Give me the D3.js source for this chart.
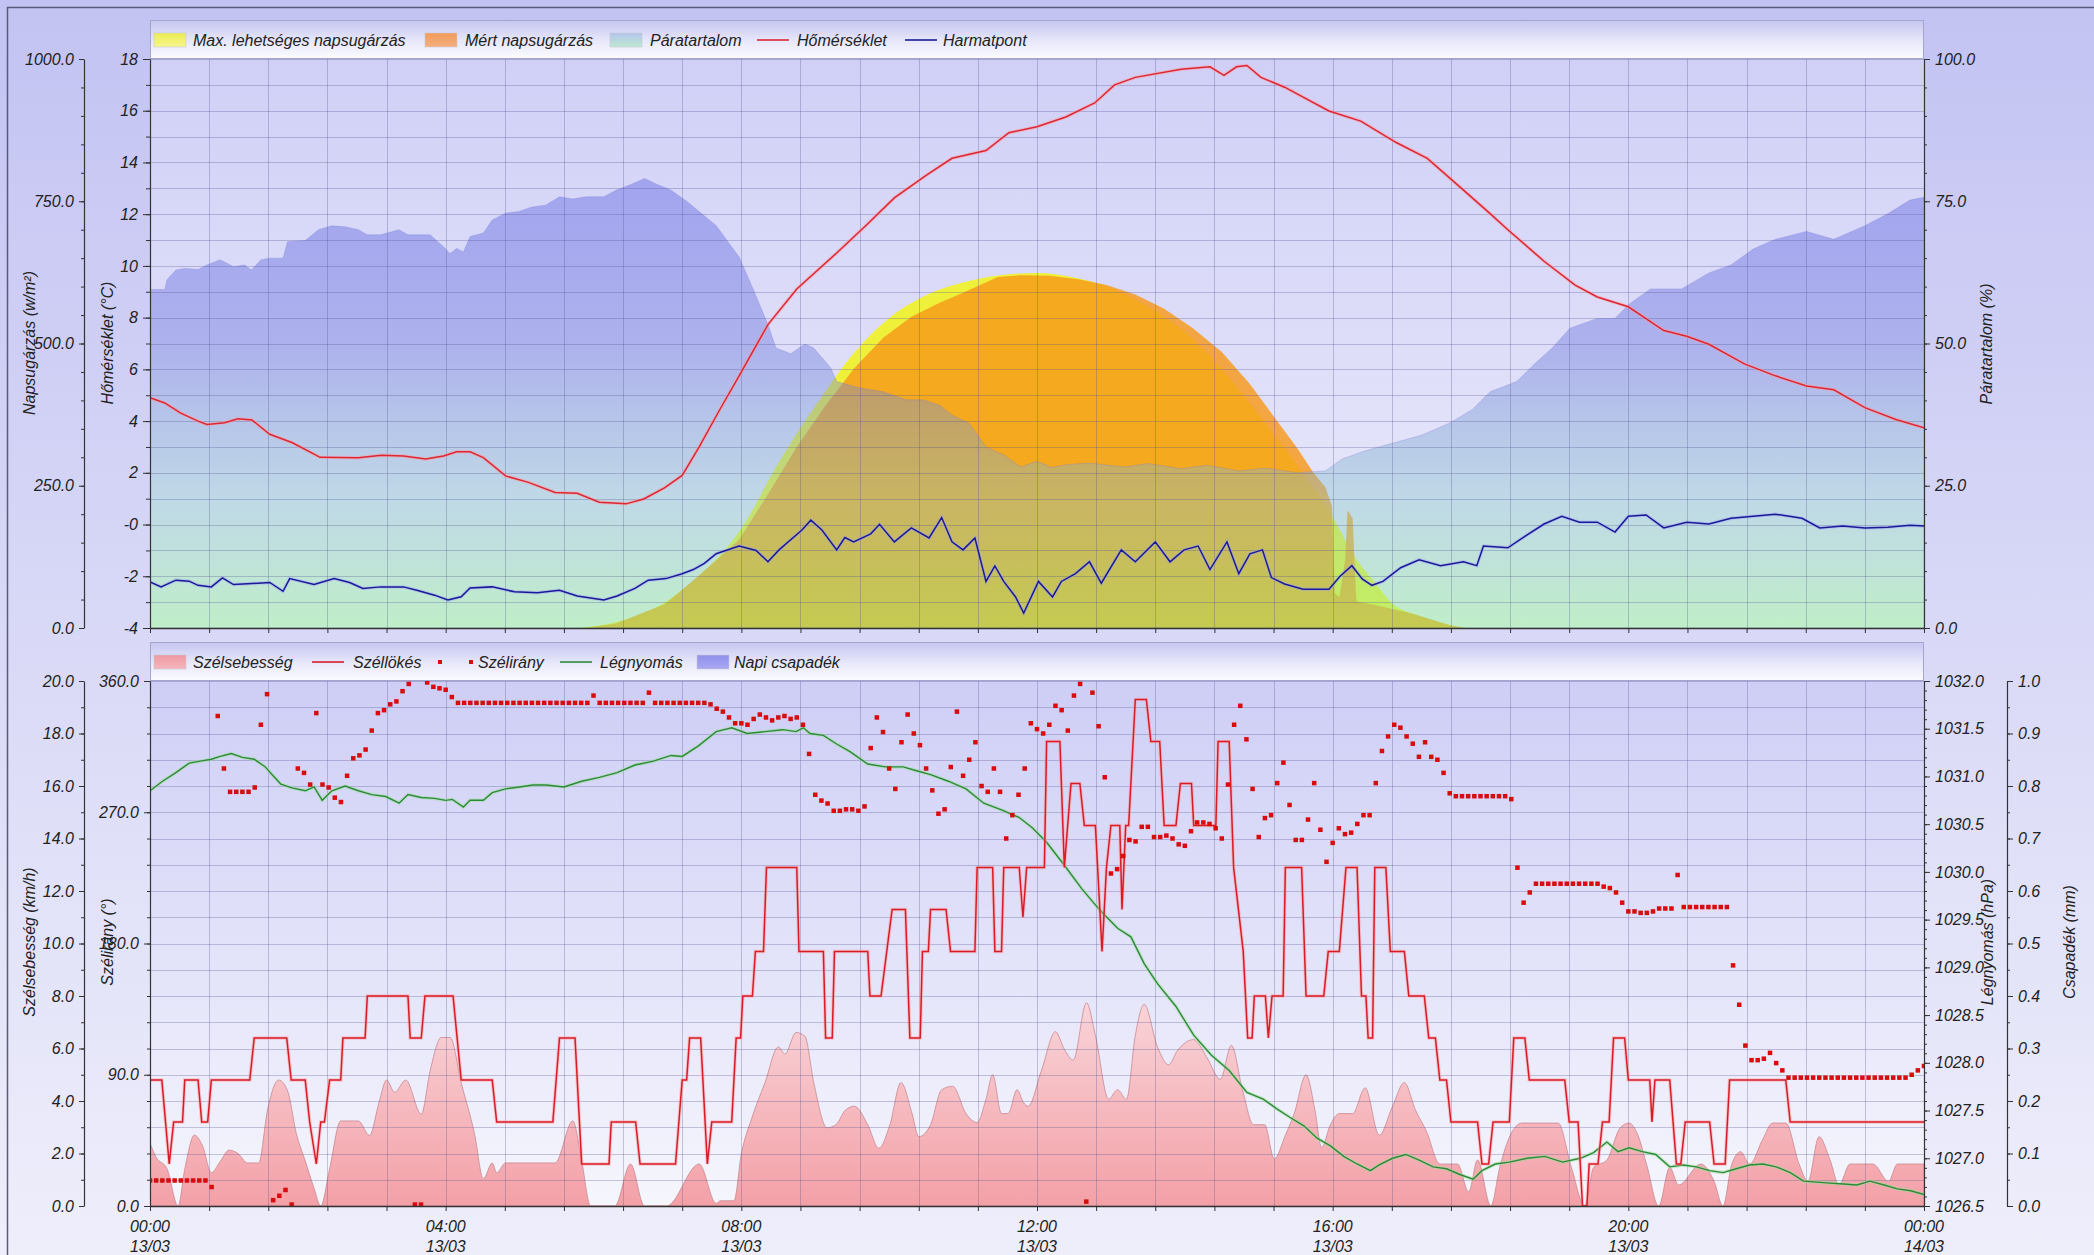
<!DOCTYPE html>
<html><head><meta charset="utf-8">
<script src="https://cdn.jsdelivr.net/npm/d3@7"></script>
<style>
html,body{margin:0;padding:0;background:#fff;}
svg text{font-family:"Liberation Sans",Arial,Helvetica,sans-serif;font-style:italic;font-size:16px;fill:#222;}
</style></head>
<body><svg id="chart" width="2094" height="1255"></svg>
<script>
// ---------------- DATA (hours since 13/03 00:00) ----------------
const xTickHours = [0,4,8,12,16,20,24];
const xTickLabels = [["00:00","13/03"],["04:00","13/03"],["08:00","13/03"],["12:00","13/03"],["16:00","13/03"],["20:00","13/03"],["00:00","14/03"]];

const temperature = [[0,4.9],[0.2,4.7],[0.41,4.32],[0.65,4.0],[0.77,3.87],[1.01,3.94],[1.19,4.09],[1.38,4.04],[1.62,3.49],[1.92,3.17],[2.22,2.72],[2.3,2.6],[2.82,2.58],[3.13,2.68],[3.43,2.65],[3.73,2.53],[3.97,2.65],[4.15,2.81],[4.33,2.81],[4.51,2.59],[4.81,1.88],[5.12,1.63],[5.48,1.24],[5.78,1.21],[6.08,0.86],[6.44,0.8],[6.68,0.99],[6.96,1.42],[7.2,1.9],[7.43,3.0],[7.7,4.4],[7.97,5.75],[8.36,7.73],[8.75,9.11],[9.29,10.5],[9.7,11.6],[10.07,12.63],[10.5,13.5],[10.85,14.16],[11.31,14.46],[11.62,15.15],[12.0,15.38],[12.39,15.76],[12.78,16.3],[13.05,17.0],[13.33,17.29],[13.95,17.6],[14.34,17.7],[14.53,17.37],[14.7,17.7],[14.84,17.75],[15.03,17.29],[15.35,16.91],[15.5,16.68],[15.95,15.99],[16.38,15.6],[16.86,14.77],[17.28,14.16],[17.77,12.93],[18.13,12.02],[18.37,11.4],[18.86,10.18],[19.28,9.26],[19.58,8.8],[20.0,8.42],[20.48,7.5],[20.79,7.28],[21.09,6.97],[21.57,6.21],[21.99,5.75],[22.41,5.36],[22.78,5.21],[23.2,4.52],[23.62,4.06],[24,3.74]];

const dewPoint = [[0,-2.22],[0.15,-2.41],[0.35,-2.15],[0.53,-2.19],[0.65,-2.35],[0.83,-2.41],[0.98,-2.06],[1.13,-2.32],[1.38,-2.28],[1.62,-2.24],[1.8,-2.58],[1.89,-2.09],[2.22,-2.32],[2.49,-2.09],[2.7,-2.24],[2.88,-2.47],[3.12,-2.41],[3.43,-2.41],[3.61,-2.54],[3.85,-2.73],[4.03,-2.92],[4.21,-2.79],[4.33,-2.45],[4.63,-2.41],[4.93,-2.6],[5.24,-2.64],[5.54,-2.54],[5.78,-2.76],[6.14,-2.92],[6.32,-2.76],[6.56,-2.47],[6.74,-2.15],[6.98,-2.09],[7.2,-1.9],[7.35,-1.74],[7.5,-1.5],[7.66,-1.13],[7.97,-0.83],[8.2,-1.0],[8.36,-1.44],[8.51,-0.98],[8.82,-0.21],[8.94,0.17],[9.09,-0.21],[9.29,-0.98],[9.4,-0.5],[9.52,-0.67],[9.75,-0.36],[9.87,0.01],[10.07,-0.67],[10.3,-0.13],[10.54,-0.52],[10.71,0.27],[10.85,-0.67],[11.0,-0.98],[11.16,-0.52],[11.31,-2.2],[11.43,-1.6],[11.55,-2.2],[11.71,-2.8],[11.82,-3.42],[12.02,-2.2],[12.21,-2.8],[12.33,-2.2],[12.52,-1.9],[12.71,-1.44],[12.87,-2.27],[13.14,-0.98],[13.33,-1.44],[13.6,-0.67],[13.8,-1.44],[13.99,-0.98],[14.18,-0.83],[14.34,-1.74],[14.57,-0.67],[14.73,-1.9],[14.88,-1.13],[15.05,-0.98],[15.17,-2.05],[15.35,-2.3],[15.6,-2.5],[15.95,-2.5],[16.1,-2.0],[16.26,-1.59],[16.4,-2.1],[16.53,-2.35],[16.68,-2.2],[16.92,-1.67],[17.17,-1.36],[17.46,-1.59],[17.77,-1.44],[17.95,-1.59],[18.04,-0.83],[18.37,-0.9],[18.61,-0.44],[18.86,0.02],[19.1,0.32],[19.34,0.09],[19.58,0.09],[19.82,-0.29],[20.0,0.32],[20.24,0.37],[20.48,-0.13],[20.79,0.09],[21.09,0.02],[21.39,0.24],[21.69,0.32],[21.99,0.4],[22.35,0.24],[22.59,-0.13],[22.9,-0.06],[23.2,-0.13],[23.51,-0.1],[23.81,-0.03],[24,-0.06]];

const humidity = [[0,59.5],[0.2,59.5],[0.23,61.2],[0.35,62.9],[0.47,63.2],[0.65,63.0],[0.77,63.8],[0.95,64.7],[1.13,63.5],[1.28,63.8],[1.37,62.9],[1.5,64.7],[1.62,65.0],[1.8,65.0],[1.86,67.9],[2.1,68.1],[2.28,70.0],[2.46,70.7],[2.64,70.5],[2.82,70.0],[2.94,69.1],[3.12,69.1],[3.37,70.0],[3.49,69.1],[3.79,69.1],[3.97,67.0],[4.06,65.8],[4.15,66.7],[4.24,66.1],[4.33,68.8],[4.51,69.4],[4.63,71.7],[4.81,72.9],[4.99,73.2],[5.17,74.0],[5.35,74.3],[5.54,75.8],[5.72,75.4],[5.9,75.8],[6.14,75.8],[6.32,77.0],[6.5,77.9],[6.69,79.0],[6.87,77.9],[7.04,77.0],[7.27,74.9],[7.66,70.7],[7.97,65.2],[8.16,59.6],[8.36,53.3],[8.47,49.2],[8.67,48.2],[8.86,49.9],[8.98,49.2],[9.21,45.7],[9.29,43.3],[9.6,42.2],[9.92,41.5],[10.23,40.1],[10.46,40.1],[10.69,39.1],[10.85,37.4],[11.08,36.0],[11.31,31.8],[11.55,30.4],[11.78,28.3],[12.0,29.3],[12.2,28.2],[12.4,28.7],[12.7,29.0],[13.18,28.3],[13.5,28.9],[13.95,28.0],[14.3,28.6],[14.73,27.6],[15.1,28.1],[15.51,27.3],[15.9,27.6],[16.13,29.7],[16.43,31.1],[16.82,32.5],[17.21,33.9],[17.58,36.0],[17.89,38.4],[18.13,41.5],[18.49,43.3],[18.73,46.4],[18.97,49.2],[19.21,52.7],[19.58,54.4],[19.82,54.4],[20.0,56.8],[20.3,59.6],[20.72,59.6],[21.09,62.4],[21.39,63.8],[21.69,66.6],[21.99,68.3],[22.41,69.7],[22.78,68.3],[23.2,70.7],[23.51,72.8],[23.81,75.2],[24,75.7]];

const maxRadiation = [[5.8,0],[6.3,10],[7.0,48],[7.5,100],[8.0,175],[8.5,290],[9.0,390],[9.5,480],[10.0,545],[10.5,585],[11.0,607],[11.5,620],[12.0,624],[12.5,616],[13.0,598],[13.5,565],[14.0,520],[14.5,455],[15.0,375],[15.5,290],[16.0,195],[16.3,125],[16.56,82],[16.8,44],[17.16,22],[17.77,0]];

const measuredRadiation = [[5.9,0],[6.3,8],[6.97,42],[7.3,78],[7.6,112],[7.97,155],[8.36,235],[8.75,318],[9.14,391],[9.53,457],[9.92,510],[10.3,547],[10.69,572],[11.0,589],[11.23,603],[11.47,617],[11.78,620],[12.17,619],[12.56,613],[12.94,603],[13.33,586],[13.72,561],[14.11,527],[14.5,485],[14.88,429],[15.19,374],[15.51,318],[15.74,273],[15.9,248],[15.99,214],[16.03,61],[16.09,54],[16.17,120],[16.2,207],[16.27,193],[16.32,47],[16.59,40],[17.06,26],[17.59,5],[17.8,0]];

const windSpeed = [[0,2.4],[0.08,1.87],[0.23,1.42],[0.38,0],[0.47,1.4],[0.6,2.7],[0.71,2.3],[0.83,1.27],[0.95,1.7],[1.07,2.13],[1.19,2.0],[1.32,1.64],[1.47,1.64],[1.59,3.66],[1.74,4.8],[1.86,4.4],[1.98,2.76],[2.1,1.72],[2.22,0.67],[2.31,0],[2.43,1.42],[2.58,3.24],[2.82,3.24],[2.97,2.69],[3.1,3.96],[3.2,4.8],[3.31,4.33],[3.46,4.8],[3.67,3.5],[3.79,5.15],[3.94,6.42],[4.06,6.42],[4.21,4.7],[4.39,2.76],[4.51,1.04],[4.63,1.64],[4.69,1.27],[4.81,1.64],[5.48,1.64],[5.72,3.24],[5.84,1.72],[5.96,0],[6.29,0],[6.5,1.6],[6.69,0],[6.99,0],[7.43,1.6],[7.66,0.1],[7.72,0.2],[7.9,0.2],[8.0,1.98],[8.14,3.34],[8.32,4.7],[8.5,6.06],[8.59,5.79],[8.74,6.61],[8.86,6.47],[8.98,4.7],[9.16,2.98],[9.28,3.1],[9.41,3.66],[9.53,3.8],[9.71,3.1],[9.86,2.2],[10.01,3.1],[10.16,4.7],[10.31,3.52],[10.4,2.64],[10.56,3.1],[10.71,4.43],[10.86,4.56],[11.04,3.52],[11.19,3.18],[11.31,4.07],[11.4,5.0],[11.52,3.52],[11.61,3.52],[11.73,4.43],[11.82,3.93],[11.88,3.8],[12.06,5.16],[12.25,6.64],[12.37,5.97],[12.49,5.56],[12.67,7.74],[12.79,6.5],[12.97,4.07],[13.09,4.43],[13.21,4.07],[13.33,6.5],[13.45,7.68],[13.63,6.06],[13.78,5.38],[13.9,5.92],[14.12,6.34],[14.3,5.65],[14.48,4.83],[14.63,6.12],[14.78,4.43],[14.93,3.1],[15.08,3.1],[15.21,1.8],[15.36,2.7],[15.48,3.52],[15.64,5.0],[15.76,3.66],[15.85,2.23],[15.97,3.1],[16.09,3.52],[16.27,3.52],[16.44,4.5],[16.63,2.7],[16.81,3.8],[16.97,4.7],[17.12,3.66],[17.27,2.84],[17.45,1.6],[17.69,1.6],[17.84,0.54],[17.96,1.75],[18.14,0],[18.26,1.47],[18.38,2.55],[18.56,3.16],[19.05,3.16],[19.23,1.47],[19.41,0],[19.53,1.47],[19.71,1.75],[19.89,2.98],[20.01,3.16],[20.13,2.7],[20.25,1.55],[20.41,0],[20.56,1.47],[20.68,0.8],[20.98,1.6],[21.16,0.94],[21.28,0],[21.4,1.6],[21.52,2.07],[21.64,1.6],[21.82,2.55],[21.95,3.16],[22.13,3.16],[22.31,1.6],[22.43,0.94],[22.58,2.64],[22.73,1.75],[22.85,0.8],[23.0,1.6],[23.31,1.6],[23.52,0.94],[23.64,1.6],[24,1.6]];

const windGust = [[0,4.8],[0.16,4.8],[0.26,1.6],[0.32,3.2],[0.44,3.2],[0.47,4.8],[0.65,4.8],[0.7,3.2],[0.78,3.2],[0.83,4.8],[1.35,4.8],[1.41,6.4],[1.85,6.4],[1.91,4.8],[2.1,4.8],[2.16,3.2],[2.25,1.6],[2.31,3.2],[2.36,3.2],[2.43,4.8],[2.58,4.8],[2.61,6.4],[2.91,6.4],[2.94,8.0],[3.49,8.0],[3.52,6.4],[3.67,6.4],[3.72,8.0],[4.1,8.0],[4.21,4.8],[4.63,4.8],[4.69,3.2],[5.45,3.2],[5.54,6.4],[5.75,6.4],[5.84,1.6],[6.21,1.6],[6.24,3.2],[6.57,3.2],[6.63,1.6],[7.11,1.6],[7.2,4.8],[7.26,4.8],[7.3,6.4],[7.45,6.4],[7.54,1.6],[7.6,3.2],[7.87,3.2],[7.93,6.4],[7.99,6.4],[8.02,8.0],[8.15,8.0],[8.19,9.7],[8.3,9.7],[8.34,12.9],[8.75,12.9],[8.78,9.7],[9.11,9.7],[9.14,6.4],[9.23,6.4],[9.26,9.7],[9.71,9.7],[9.74,8.0],[9.89,8.0],[10.04,11.3],[10.22,11.3],[10.28,6.4],[10.42,6.4],[10.45,9.7],[10.53,9.7],[10.56,11.3],[10.77,11.3],[10.83,9.7],[11.16,9.7],[11.19,12.9],[11.4,12.9],[11.43,9.7],[11.52,9.7],[11.55,12.9],[11.76,12.9],[11.81,11.0],[11.86,12.9],[12.1,12.9],[12.13,17.7],[12.31,17.7],[12.37,12.9],[12.46,16.1],[12.58,16.1],[12.64,14.5],[12.79,14.5],[12.88,9.7],[12.94,12.9],[13.0,14.5],[13.12,14.5],[13.15,11.3],[13.2,14.5],[13.24,14.5],[13.33,19.3],[13.48,19.3],[13.54,17.7],[13.66,17.7],[13.72,14.5],[13.88,14.5],[13.94,16.1],[14.09,16.1],[14.12,14.5],[14.42,14.5],[14.45,17.7],[14.6,17.7],[14.66,12.9],[14.79,9.7],[14.85,6.4],[14.91,6.4],[14.94,8.0],[15.09,8.0],[15.13,6.4],[15.18,8.0],[15.33,8.0],[15.36,12.9],[15.58,12.9],[15.64,8.0],[15.88,8.0],[15.94,9.7],[16.09,9.7],[16.18,12.9],[16.33,12.9],[16.39,8.0],[16.45,8.0],[16.48,6.4],[16.54,6.4],[16.57,12.9],[16.72,12.9],[16.78,9.7],[16.97,9.7],[17.03,8.0],[17.24,8.0],[17.3,6.4],[17.39,6.4],[17.45,4.8],[17.54,4.8],[17.6,3.2],[17.96,3.2],[18.02,1.6],[18.11,1.6],[18.17,3.2],[18.39,3.2],[18.45,6.4],[18.6,6.4],[18.66,4.8],[19.14,4.8],[19.2,3.2],[19.32,3.2],[19.38,0.0],[19.44,0.0],[19.47,1.6],[19.59,1.6],[19.65,3.2],[19.74,3.2],[19.8,6.4],[19.95,6.4],[20.0,4.8],[20.29,4.8],[20.32,3.2],[20.36,4.8],[20.56,4.8],[20.65,1.6],[20.71,1.6],[20.77,3.2],[21.1,3.2],[21.16,1.6],[21.31,1.6],[21.37,4.8],[22.13,4.8],[22.19,3.2],[24.0,3.2]];

// wind direction, one reading every 5 minutes (00:00 .. 24:00)
const windDirection = [
17.5,17.5,17.5,17.5,17.5,17.5,17.5,17.5,17.5,17.5,13,336,
300,284,284,284,284,287,330,351,4,7,11,1,
300,297,289,338,289,287,280,277,295,307,309,313,
326,338,340,344,346,353,358,1,1,359,356,355,
354,349,345,345,345,345,345,345,345,345,345,345,
345,345,345,345,345,345,345,345,345,345,345,345,
350,345,345,345,345,345,345,345,345,352,345,345,
345,345,345,345,345,345,345,344,341,339,335,331,
331,330,334,337,335,333,335,336,334,335,330,310,
282,278,276,271,271,272,272,271,274,314,335,325,
300,286,318,337,324,316,300,285,269,272,301,339,
295,306,318,288,284,300,284,252,268,282,300,331,
327,324,330,343,340,326,350,358,3,352,329,294,
228,231,240,251,250,260,260,253,253,254,252,248,
247,257,263,263,262,259,252,289,330,343,320,286,
253,266,268,290,304,275,251,251,265,290,258,236,
249,259,255,256,262,268,268,290,312,322,330,328,
322,317,308,318,308,306,297,283,281,281,281,281,
281,281,281,281,281,279,232,208,215,221,221,221,
221,221,221,221,221,221,221,221,219,218,215,208,
202,202,201,201,202,204,204,204,227,205,205,205,
205,205,205,205,205,165,138,110,100,100,101,105,
98,93,88,88,88,88,88,88,88,88,88,88,
88,88,88,88,88,88,88,88,88,88,90,93,
96];

const pressure = [[0,1030.85],[0.17,1030.95],[0.35,1031.04],[0.53,1031.14],[0.68,1031.16],[0.83,1031.18],[0.95,1031.21],[1.1,1031.24],[1.25,1031.2],[1.41,1031.18],[1.56,1031.1],[1.65,1031.02],[1.77,1030.92],[1.92,1030.88],[2.1,1030.85],[2.22,1030.89],[2.33,1030.75],[2.46,1030.85],[2.64,1030.9],[2.82,1030.85],[3.0,1030.81],[3.19,1030.79],[3.37,1030.72],[3.49,1030.81],[3.67,1030.78],[3.85,1030.77],[4.0,1030.75],[4.09,1030.76],[4.24,1030.68],[4.33,1030.75],[4.51,1030.75],[4.63,1030.83],[4.81,1030.87],[5.0,1030.89],[5.18,1030.91],[5.36,1030.91],[5.6,1030.89],[5.84,1030.95],[6.08,1030.99],[6.32,1031.04],[6.56,1031.12],[6.81,1031.16],[7.05,1031.22],[7.2,1031.21],[7.42,1031.32],[7.66,1031.47],[7.87,1031.51],[8.08,1031.45],[8.32,1031.47],[8.56,1031.49],[8.74,1031.47],[8.84,1031.51],[8.93,1031.45],[9.11,1031.43],[9.29,1031.34],[9.47,1031.26],[9.71,1031.13],[9.95,1031.1],[10.19,1031.1],[10.37,1031.06],[10.56,1031.02],[10.8,1030.95],[11.04,1030.87],[11.28,1030.72],[11.52,1030.65],[11.76,1030.57],[11.94,1030.46],[12.13,1030.31],[12.37,1030.07],[12.61,1029.82],[12.85,1029.6],[13.09,1029.41],[13.27,1029.32],[13.45,1029.04],[13.63,1028.83],[13.88,1028.59],[14.12,1028.29],[14.36,1028.08],[14.6,1027.92],[14.84,1027.69],[15.06,1027.62],[15.24,1027.52],[15.42,1027.43],[15.61,1027.34],[15.79,1027.21],[15.97,1027.13],[16.15,1027.02],[16.33,1026.94],[16.51,1026.87],[16.63,1026.93],[16.81,1027.0],[16.99,1027.04],[17.17,1026.98],[17.36,1026.91],[17.54,1026.89],[17.72,1026.83],[17.9,1026.78],[18.02,1026.87],[18.2,1026.94],[18.39,1026.96],[18.63,1027.0],[18.87,1027.02],[19.11,1026.96],[19.35,1027.0],[19.53,1027.06],[19.71,1027.17],[19.86,1027.07],[20.01,1027.11],[20.19,1027.07],[20.37,1027.04],[20.56,1026.91],[20.74,1026.93],[20.92,1026.91],[21.1,1026.87],[21.28,1026.85],[21.46,1026.89],[21.64,1026.93],[21.82,1026.94],[22.0,1026.91],[22.19,1026.85],[22.37,1026.76],[22.55,1026.75],[22.73,1026.74],[22.91,1026.73],[23.09,1026.72],[23.27,1026.76],[23.46,1026.72],[23.64,1026.68],[23.82,1026.66],[24,1026.62]];

const dailyRain = []; // no precipitation recorded

const topLegend = ["Max. lehetséges napsugárzás","Mért napsugárzás","Páratartalom","Hőmérséklet","Harmatpont"];
const bottomLegend = ["Szélsebesség","Széllökés","Szélirány","Légnyomás","Napi csapadék"];

// ---------------- LAYOUT ----------------
const L=150, R=1924, T1=59, B1=628, T2=681, B2=1206;
const svg=d3.select('#chart');
const defs=svg.append('defs');
function grad(id,stops,opt){
  const g=defs.append('linearGradient').attr('id',id).attr('x1',0).attr('y1',0).attr('x2',0).attr('y2',1);
  if(opt){g.attr('gradientUnits','userSpaceOnUse').attr('x1',0).attr('x2',0).attr('y1',opt[0]).attr('y2',opt[1]);}
  stops.forEach(s=>g.append('stop').attr('offset',s[0]).attr('stop-color',s[1]).attr('stop-opacity',s[2]==null?1:s[2]));
}
grad('outerBg',[[0,'#c3c3f3'],[1,'#eeeefb']]);
grad('legBg',[[0,'#c6c6f1'],[0.55,'#e8e8fb'],[1,'#fbfbff']]);
grad('topBg',[[0,'#d0d0f7'],[1,'#ebebfb']]);
grad('botBg',[[0,'#cecef6'],[1,'#f6f6fd']]);
grad('humGrad',[[0,'#5a5ae6',0.46],[0.5,'#6a74dc',0.42],[0.78,'#88c8c8',0.4],[1,'#8cf28c',0.46]],[T1,B1]);
grad('swHum',[[0,'#b4c4ec'],[1,'#bde8d0']]);
grad('swYel',[[0,'#ecec50'],[1,'#f6f690']]);
grad('swOra',[[0,'#f09a58'],[1,'#f4b080']]);
grad('swPink',[[0,'#ee9aa2'],[1,'#f5b5bb']]);
grad('swBlue',[[0,'#9090ec'],[1,'#a8a8f2']]);

svg.append('rect').attr('x',0).attr('y',0).attr('width',2094).attr('height',1255).attr('fill','url(#outerBg)');
svg.append('rect').attr('x',7.5).attr('y',7.5).attr('width',2200).attr('height',1400).attr('fill','none').attr('stroke','#5a5a7a').attr('stroke-width',1.5);

const x=d3.scaleLinear().domain([0,24]).range([L,R]);
const yT=d3.scaleLinear().domain([-4,18]).range([B1,T1]);
const yH=d3.scaleLinear().domain([0,100]).range([B1,T1]);
const yR=d3.scaleLinear().domain([0,1000]).range([B1,T1]);
const yS=d3.scaleLinear().domain([0,20]).range([B2,T2]);
const yD=d3.scaleLinear().domain([0,360]).range([B2,T2]);
const yP=d3.scaleLinear().domain([1026.5,1032]).range([B2,T2]);
const yC=d3.scaleLinear().domain([0,1]).range([B2,T2]);

grad('windGrad',[[0,'#fadce0',0.95],[1,'#f39ca2',0.95]],[yS(9),B2]);

defs.append('clipPath').attr('id','clipTop').append('rect').attr('x',L).attr('y',T1).attr('width',R-L).attr('height',B1-T1);
defs.append('clipPath').attr('id','clipBot').append('rect').attr('x',L).attr('y',T2-3).attr('width',R-L).attr('height',B2-T2+3);

const gridX=d3.range(0,31).map(i=>i*0.8);

// ---------------- TOP PANEL ----------------
svg.append('rect').attr('x',L).attr('y',T1).attr('width',R-L).attr('height',B1-T1).attr('fill','url(#topBg)');
const topPlot=svg.append('g').attr('clip-path','url(#clipTop)');
topPlot.append('path').datum(maxRadiation).attr('d',d3.area().x(d=>x(d[0])).y0(yR(0)).y1(d=>yR(d[1])).curve(d3.curveMonotoneX)).attr('fill','#eef03a');
topPlot.append('path').datum(measuredRadiation).attr('d',d3.area().x(d=>x(d[0])).y0(yR(0)).y1(d=>yR(d[1]))).attr('fill','#f7981a').attr('fill-opacity',0.82);
topPlot.append('path').datum(humidity).attr('d',d3.area().x(d=>x(d[0])).y0(yH(0)).y1(d=>yH(d[1]))).attr('fill','url(#humGrad)').attr('stroke','#7a7ad8').attr('stroke-opacity',0.3);
const gTopGrid=topPlot.append('g').attr('stroke','#50508e').attr('stroke-opacity',0.3).attr('stroke-width',1);
d3.range(-4,19,1).forEach(v=>gTopGrid.append('line').attr('x1',L).attr('x2',R).attr('y1',Math.round(yT(v))+0.5).attr('y2',Math.round(yT(v))+0.5));
gridX.forEach(h=>gTopGrid.append('line').attr('x1',Math.round(x(h))+0.5).attr('x2',Math.round(x(h))+0.5).attr('y1',T1).attr('y2',B1));
const lineT=d3.line().x(d=>x(d[0])).y(d=>yT(d[1]));
topPlot.append('path').datum(temperature).attr('d',lineT).attr('fill','none').attr('stroke','#ff9aa0').attr('stroke-opacity',0.5).attr('stroke-width',3.5);
topPlot.append('path').datum(temperature).attr('d',lineT).attr('fill','none').attr('stroke','#dc2834').attr('stroke-width',1.5);
topPlot.append('path').datum(dewPoint).attr('d',lineT).attr('fill','none').attr('stroke','#9a9aff').attr('stroke-opacity',0.4).attr('stroke-width',3.5);
topPlot.append('path').datum(dewPoint).attr('d',lineT).attr('fill','none').attr('stroke','#1a1a96').attr('stroke-width',1.5);

// ---------------- BOTTOM PANEL ----------------
svg.append('rect').attr('x',L).attr('y',T2).attr('width',R-L).attr('height',B2-T2).attr('fill','url(#botBg)');
const botPlot=svg.append('g').attr('clip-path','url(#clipBot)');
botPlot.append('path').datum(windSpeed).attr('d',d3.area().x(d=>x(d[0])).y0(yS(0)).y1(d=>yS(d[1])).curve(d3.curveMonotoneX)).attr('fill','url(#windGrad)').attr('stroke','#c98890').attr('stroke-width',0.8);
const gBotGrid=botPlot.append('g').attr('stroke','#50508e').attr('stroke-opacity',0.3).attr('stroke-width',1);
d3.range(0,21,1).forEach(v=>gBotGrid.append('line').attr('x1',L).attr('x2',R).attr('y1',Math.round(yS(v))+0.5).attr('y2',Math.round(yS(v))+0.5));
gridX.forEach(h=>gBotGrid.append('line').attr('x1',Math.round(x(h))+0.5).attr('x2',Math.round(x(h))+0.5).attr('y1',T2).attr('y2',B2));
const lineP=d3.line().x(d=>x(d[0])).y(d=>yP(d[1]));
botPlot.append('path').datum(pressure).attr('d',lineP).attr('fill','none').attr('stroke','#9be09b').attr('stroke-opacity',0.5).attr('stroke-width',3.5);
botPlot.append('path').datum(pressure).attr('d',lineP).attr('fill','none').attr('stroke','#2e8a38').attr('stroke-width',1.4);
const lineG=d3.line().x(d=>x(d[0])).y(d=>yS(d[1]));
botPlot.append('path').datum(windGust).attr('d',lineG).attr('fill','none').attr('stroke','#ff9aa0').attr('stroke-opacity',0.5).attr('stroke-width',3.5);
botPlot.append('path').datum(windGust).attr('d',lineG).attr('fill','none').attr('stroke','#d81c26').attr('stroke-width',1.5);
botPlot.selectAll('rect.dir').data(windDirection).enter().append('rect').attr('class','dir')
  .attr('x',(d,i)=>x(i/12)-2.25).attr('y',d=>yD(d)-2.25).attr('width',4.5).attr('height',4.5).attr('fill','#d80c0c');

// ---------------- AXES ----------------
function styleAxis(g){
  g.select('.domain').attr('stroke','#333').attr('stroke-width',1.2);
  g.selectAll('.tick line').attr('stroke','#333');
}
function vAxis(scale,xpos,side,majors,minors,fmt,tick,minor){
  const mk=side==='left'?d3.axisLeft:d3.axisRight;
  const g=svg.append('g').attr('transform',`translate(${xpos},0)`);
  g.call(mk(scale).tickValues(majors).tickFormat(fmt).tickSizeInner(tick).tickSizeOuter(0).tickPadding(5));
  styleAxis(g);
  const m=g.append('g').call(mk(scale).tickValues(minors).tickFormat('').tickSizeInner(minor).tickSizeOuter(0));
  m.select('.domain').remove(); m.selectAll('line').attr('stroke','#333');
  return g;
}
const f1=d3.format('.1f');
vAxis(yR,84,'left',d3.range(0,1001,250),d3.range(0,1001,50),f1,5,3);
vAxis(yT,L,'left',d3.range(-4,19,2),d3.range(-4,19,1),v=>v===0?'-0':String(v),7,4);
vAxis(yH,R,'right',d3.range(0,101,25),d3.range(0,101,5),f1,6,3);
vAxis(yS,84,'left',d3.range(0,21,2),d3.range(0,21,1),f1,5,3);
vAxis(yD,L,'left',d3.range(0,361,90),d3.range(0,361,18),f1,6,3);
vAxis(yP,R,'right',d3.range(0,12).map(i=>1026.5+i*0.5),d3.range(0,56).map(i=>1026.5+i*0.1),f1,6,3);
vAxis(yC,2007,'right',d3.range(0,11).map(i=>i/10),d3.range(0,21).map(i=>i/20),f1,6,3);

function xAxis(ypos,labels){
  const g=svg.append('g').attr('transform',`translate(0,${ypos})`);
  g.call(d3.axisBottom(x).tickValues(gridX).tickFormat('').tickSizeInner(5).tickSizeOuter(0));
  styleAxis(g); g.select('.domain').attr('stroke-width',1.6);
  if(labels){
    xTickHours.forEach((h,i)=>{
      const t=g.append('text').attr('text-anchor','middle').attr('x',x(h)).attr('y',0);
      t.append('tspan').attr('x',x(h)).attr('y',26).text(xTickLabels[i][0]);
      t.append('tspan').attr('x',x(h)).attr('y',46).text(xTickLabels[i][1]);
    });
  }
}
xAxis(B1,false); xAxis(B2,true);

function vTitle(txt,xc,yc){
  svg.append('text').attr('transform',`translate(${xc},${yc}) rotate(-90)`).attr('text-anchor','middle').attr('dominant-baseline','central').text(txt);
}
vTitle('Napsugárzás (w/m²)',29,343);
vTitle('Hőmérséklet (°C)',107,343);
vTitle('Páratartalom (%)',1986,344);
vTitle('Szélsebesség (km/h)',29,942);
vTitle('Szélirány (°)',107,942);
vTitle('Légnyomás (hPa)',1987,942);
vTitle('Csapadék (mm)',2069,942);

// ---------------- LEGENDS ----------------
function legendBox(y0,y1){
  svg.append('rect').attr('x',L+0.5).attr('y',y0+0.5).attr('width',R-L-1).attr('height',y1-y0).attr('fill','url(#legBg)').attr('stroke','#a4a4cc');
}
legendBox(20,58); legendBox(642,680);
function swatch(x0,yc,fill){svg.append('rect').attr('x',x0).attr('y',yc-7).attr('width',32).attr('height',14).attr('fill',fill).attr('stroke','#c8c8d8').attr('stroke-width',0.6);}
function lsym(x0,yc,col){svg.append('line').attr('x1',x0).attr('x2',x0+32).attr('y1',yc).attr('y2',yc).attr('stroke',col).attr('stroke-width',1.6);}
function ltext(x0,yc,t){svg.append('text').attr('x',x0).attr('y',yc).attr('dominant-baseline','central').text(t);}
const ly1=40, ly2=662;
swatch(154,ly1,'url(#swYel)'); ltext(193,ly1,topLegend[0]);
swatch(425,ly1,'url(#swOra)'); ltext(465,ly1,topLegend[1]);
swatch(610,ly1,'url(#swHum)'); ltext(650,ly1,topLegend[2]);
lsym(757,ly1,'#dc2834'); ltext(797,ly1,topLegend[3]);
lsym(905,ly1,'#1a1a96'); ltext(943,ly1,topLegend[4]);
swatch(154,ly2,'url(#swPink)'); ltext(193,ly2,bottomLegend[0]);
lsym(312,ly2,'#d81c26'); ltext(353,ly2,bottomLegend[1]);
svg.append('rect').attr('x',438).attr('y',ly2-2).attr('width',4).attr('height',4).attr('fill','#d80c0c');
svg.append('rect').attr('x',469).attr('y',ly2-2).attr('width',4).attr('height',4).attr('fill','#d80c0c');
ltext(478,ly2,bottomLegend[2]);
lsym(560,ly2,'#2e8a38'); ltext(600,ly2,bottomLegend[3]);
swatch(697,ly2,'url(#swBlue)'); ltext(734,ly2,bottomLegend[4]);
</script></body></html>
